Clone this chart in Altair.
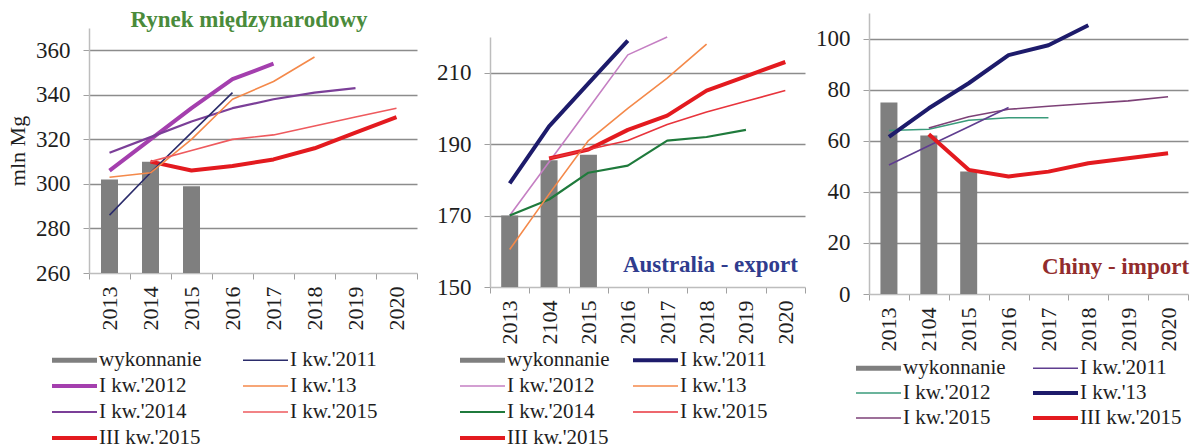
import altair as alt
import pandas as pd

FONT = "Liberation Serif"
INK = "#1e1e1e"
GRID = "#8c8c8c"
BAR = "#7f7f7f"

# All three plot areas share one frame (top at 8px, 286px tall); each panel
# places its own value range and x axis inside that frame.
FRAME_H = 286

# ---------------- Rynek międzynarodowy ----------------
world_years = ["2013", "2014", "2015", "2016", "2017", "2018", "2019", "2020"]
# legend entries are listed column by column (two columns)
world_series = ["wykonnanie", "I kw.'2012", "I kw.'2014", "III kw.'2015",
                "I kw.'2011", "I kw.'13", "I kw.'2015"]
world_colors = ["#7f7f7f", "#a43fae", "#7b3f98", "#e31a1f", "#2b2c6b", "#f4894a", "#ee5a5e"]
world_widths = [5, 4, 2.2, 4, 1.6, 1.6, 1.6]
world_actual = [302, 310, 299, None, None, None, None, None]
world_q1_2012 = [306, 320, 334, 347, 354, None, None, None]
world_q1_2014 = [314, 321, 328, 334, 338, 341, 343, None]
world_q3_2015 = [None, 310, 306, 308, 311, 316, 323, 330]
world_q1_2011 = [286, 305, 323, 341, None, None, None, None]
world_q1_13 = [303, 305, 320, 338, 346, 357, None, None]
world_q1_2015 = [None, 310, 315, 320, 322, 326, 330, 334]
world_ticks = [260, 280, 300, 320, 340, 360]

# ---------------- Australia - export ----------------
aus_years = ["2013", "2104", "2015", "2016", "2017", "2018", "2019", "2020"]
aus_series = ["wykonnanie", "I kw.'2012", "I kw.'2014", "III kw.'2015",
              "I kw.'2011", "I kw.'13", "I kw.'2015"]
aus_colors = ["#7f7f7f", "#c57fc3", "#1f7a3c", "#e31a1f", "#1d1b6b", "#f4894a", "#e8343c"]
aus_widths = [5, 1.6, 2.2, 4, 4, 1.6, 1.6]
aus_actual = [170, 185.5, 187, None, None, None, None, None]
aus_q1_2012 = [170, 185, 200, 215, 220, None, None, None]
aus_q1_2014 = [170, 174.5, 182, 184, 191, 192, 194, None]
aus_q3_2015 = [None, 186, 188.5, 194, 198, 205, 209, 213]
aus_q1_2011 = [179, 195, 207, 219, None, None, None, None]
aus_q1_13 = [160.5, 176, 191, 200, 208.5, 218, None, None]
aus_q1_2015 = [None, 186, 188.5, 191, 195.5, 199, 202, 205]
aus_ticks = [150, 170, 190, 210]

# ---------------- Chiny - import ----------------
chn_years = ["2013", "2104", "2015", "2016", "2017", "2018", "2019", "2020"]
chn_series = ["wykonnanie", "I kw.'2012", "I kw.'2015",
              "I kw.'2011", "I kw.'13", "III kw.'2015"]
chn_colors = ["#7f7f7f", "#3a9b7b", "#7d4177", "#5f3d8f", "#1d1b6b", "#e31a1f"]
chn_widths = [5, 1.6, 1.6, 1.6, 4, 4]
chn_actual = [75, 62, 48, None, None, None, None, None]
chn_q1_2012 = [64, 64.5, 68, 69, 69, None, None, None]
chn_q1_2015 = [None, 65, 69.4, 72.3, 73.5, 74.6, 75.6, 77.2]
chn_q1_2011 = [50.5, 58, 65.5, 73, None, None, None, None]
chn_q1_13 = [61.5, 72.7, 82.5, 93.5, 97.4, 105.2, None, None]
chn_q3_2015 = [None, 62.5, 48.6, 46, 47.9, 51.2, 53.1, 55.1]
chn_ticks = [0, 20, 40, 60, 80, 100]


def long_table(years, names, columns):
    rows = []
    for name, vals in zip(names, columns):
        for year, v in zip(years, vals):
            if v is not None:
                rows.append({"year": year, "value": v, "series": name})
    return pd.DataFrame(rows)


def panel(years, names, colors, widths, actual, forecasts, y_domain, y_ticks,
          w, y_range, legend_x, legend_y, col_pad, row_pad, y_title=None,
          notes=()):
    bars = pd.DataFrame({"year": years, "value": actual}).dropna()
    lines = long_table(years, names[1:], forecasts)

    x = alt.X("year:N", sort=years,
              scale=alt.Scale(domain=years, paddingInner=0, paddingOuter=0),
              axis=alt.Axis(title=None, labelAngle=-90, tickBand="extent",
                            tickSize=6, labelPadding=7, grid=False,
                            offset=y_range[0] - FRAME_H,
                            labelFont=FONT, labelFontSize=22, labelColor=INK))
    axis_kw = dict(values=y_ticks, tickSize=6, labelPadding=13, grid=True,
                   labelFont=FONT, labelFontSize=23, labelColor=INK,
                   gridColor={"condition": {"test": f"datum.value === {y_domain[0]}",
                                            "value": "transparent"},
                              "value": GRID})
    if y_title:
        axis_kw.update(title=y_title, titleFont=FONT, titleFontSize=22,
                       titleFontWeight="normal", titleColor=INK, titlePadding=6)
    else:
        axis_kw.update(title=None)
    y = alt.Y("value:Q",
              scale=alt.Scale(domain=y_domain, range=list(y_range), nice=False, zero=False),
              axis=alt.Axis(**axis_kw))

    bar_layer = alt.Chart(bars).mark_bar(size=17, color=BAR).encode(
        x=x, y=y, y2=alt.Y2(datum=y_domain[0]))

    line_layer = alt.Chart(lines).mark_line(strokeJoin="round").encode(
        x=x, y=y,
        color=alt.Color("series:N",
                        scale=alt.Scale(domain=names, range=colors),
                        legend=alt.Legend(orient="none", legendX=legend_x, legendY=legend_y,
                                          columns=2, columnPadding=col_pad, rowPadding=row_pad,
                                          title=None, padding=0,
                                          symbolType="M-1,0H21.5", symbolSize=16,
                                          labelOffset=34.5, labelLimit=300,
                                          labelFont=FONT, labelFontSize=21, labelColor=INK)),
        strokeWidth=alt.StrokeWidth("series:N",
                                    scale=alt.Scale(type="ordinal", domain=names, range=widths)),
    )

    layers = [bar_layer, line_layer]
    for note in notes:
        layers.append(note)
    return alt.layer(*layers).properties(width=w, height=FRAME_H)


def note_text(text, color, x, y, align, dx=0):
    return alt.Chart(pd.DataFrame({"label": [text]})).mark_text(
        align=align, baseline="alphabetic", font=FONT, fontSize=23,
        fontWeight="bold", color=color, dx=dx
    ).encode(x=x, y=y, text="label:N")


world = panel(world_years, world_series, world_colors, world_widths, world_actual,
              [world_q1_2012, world_q1_2014, world_q3_2015, world_q1_2011,
               world_q1_13, world_q1_2015],
              [260, 370], world_ticks, 328, (265, 20), -45.5, 341.5, 32, 4,
              y_title="mln Mg",
              notes=[note_text("Rynek międzynarodowy", "#4a8b3b",
                               alt.value(160), alt.value(19), "center")])

aus = panel(aus_years, aus_series, aus_colors, aus_widths, aus_actual,
            [aus_q1_2012, aus_q1_2014, aus_q3_2015, aus_q1_2011,
             aus_q1_13, aus_q1_2015],
            [150, 220], aus_ticks, 315, (279, 29), -38.5, 341.5, 14, 4,
            notes=[note_text("Australia - export", "#2f3c8e",
                             alt.X(datum=aus_years[-1]), alt.Y(datum=154.1),
                             "right", 12.6)])

chn = panel(chn_years, chn_series, chn_colors, chn_widths, chn_actual,
            [chn_q1_2012, chn_q1_2015, chn_q1_2011, chn_q1_13, chn_q3_2015],
            [0, 110], chn_ticks, 319, (286, 5), -21.5, 349.5, 18, 3,
            notes=[note_text("Chiny - import", "#922c2c",
                             alt.X(datum=chn_years[-1]), alt.Y(datum=7.7),
                             "right", 21)])

indep = dict(color="independent", strokeWidth="independent", x="independent", y="independent")

chart = alt.hconcat(
    alt.hconcat(world, aus, spacing=18).resolve_scale(**indep),
    chn, spacing=9,
).resolve_scale(**indep).properties(
    padding={"left": 6, "top": 8, "right": 0, "bottom": 0}
).configure_view(stroke=None).configure_axis(
    domainColor="#bdbdbd", domainWidth=1.5, tickColor="#a0a0a0", gridWidth=1.6,
)

chart.save("out.html", embed_options={"renderer": "svg", "actions": False})
